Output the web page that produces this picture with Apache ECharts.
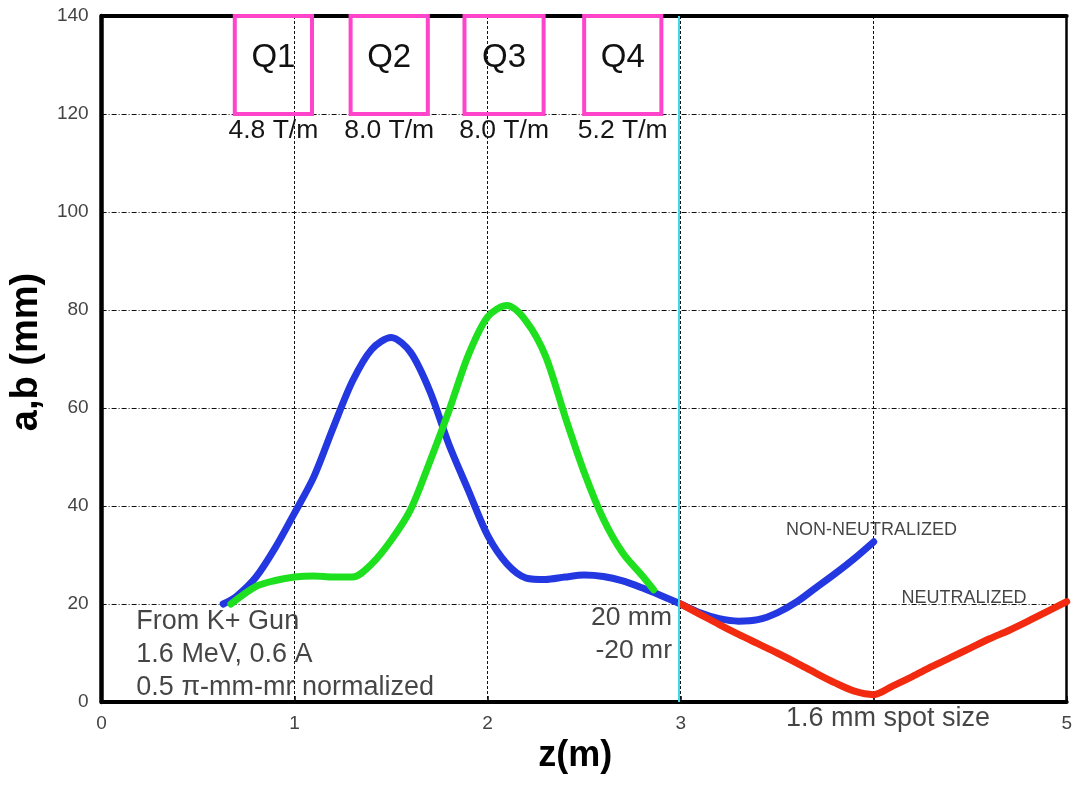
<!DOCTYPE html>
<html>
<head>
<meta charset="utf-8">
<script src="https://cdn.jsdelivr.net/npm/echarts@6/dist/echarts.min.js"></script>
<style>
html,body{margin:0;padding:0;background:#fff;}
#chart{width:1075px;height:785px;}
</style>
</head>
<body>
<div id="chart"></div>
<script>
// ---- data ----
const zBlue = [0.63, 0.70, 0.80, 0.90, 1.00, 1.10, 1.20, 1.30, 1.40, 1.50, 1.60, 1.70, 1.80, 1.90, 2.00, 2.10, 2.20, 2.30, 2.40, 2.50, 2.60, 2.70, 2.80, 2.90, 3.00, 3.10, 3.20, 3.30, 3.40, 3.50, 3.60, 3.70, 3.80, 3.90, 4.00];
const aBlue = [20.0, 21.6, 25.5, 31.5, 38.6, 46.0, 56.0, 65.5, 72.0, 74.4, 71.4, 63.5, 52.5, 43.2, 34.0, 28.2, 25.3, 25.0, 25.5, 25.9, 25.6, 24.7, 23.3, 21.7, 20.0, 18.2, 17.0, 16.5, 16.8, 18.2, 20.4, 23.3, 26.2, 29.3, 32.7];

const zGreen = [0.67, 0.80, 0.90, 1.00, 1.10, 1.20, 1.30, 1.40, 1.50, 1.60, 1.70, 1.80, 1.90, 2.00, 2.10, 2.20, 2.30, 2.40, 2.50, 2.60, 2.70, 2.80, 2.86];
const bGreen = [20.0, 23.6, 24.8, 25.5, 25.7, 25.5, 25.5, 28.2, 33.0, 39.2, 49.0, 59.5, 70.8, 78.6, 80.9, 77.7, 70.6, 58.4, 46.9, 37.3, 30.4, 25.8, 22.9];

const zRed = [3.00, 3.10, 3.20, 3.30, 3.40, 3.50, 3.60, 3.70, 3.80, 3.90, 4.00, 4.10, 4.20, 4.30, 4.40, 4.50, 4.60, 4.70, 4.80, 4.90, 5.00];
const aRed = [20.0, 17.9, 15.8, 13.8, 11.9, 10.0, 8.0, 5.9, 3.9, 2.2, 1.5, 3.3, 5.2, 7.2, 9.1, 11.0, 12.9, 14.6, 16.5, 18.5, 20.5];

const quadNames = ['Q1', 'Q2', 'Q3', 'Q4'];
const quadGradients = ['4.8 T/m', '8.0 T/m', '8.0 T/m', '5.2 T/m'];
const quadStart = [0.69, 1.29, 1.88, 2.50];
const quadEnd = [1.09, 1.69, 2.29, 2.90];
const quadTop = 140, quadBottom = 120;

const exitPlaneZ = 2.99;

const xTickLabels = ['0', '1', '2', '3', '', '5'];

const noteTexts = ['From K+ Gun\n1.6 MeV, 0.6 A\n0.5 π-mm-mr normalized', '20 mm\n-20 mr', 'NON-NEUTRALIZED', 'NEUTRALIZED', '1.6 mm spot size'];
const noteX = [0.18, 2.955, 3.546, 4.144, 3.546];
const noteY = [9.6, 13.9, 35.1, 21.2, -3.3];

// ---- chart ----
const FONT = 'Liberation Sans, Arial, Helvetica, sans-serif';
const chart = echarts.init(document.getElementById('chart'), null, {renderer: 'canvas'});

const pairs = (xs, ys) => xs.map((x, i) => [x, ys[i]]);

const noteStyles = [
  {fontSize: 27, lineHeight: 33, align: 'left'},
  {fontSize: 26.5, lineHeight: 33, align: 'right'},
  {fontSize: 18, lineHeight: 20, align: 'left'},
  {fontSize: 18, lineHeight: 20, align: 'left'},
  {fontSize: 27, lineHeight: 30, align: 'left'}
];

const TEXT = '#161616';

const option = {
  backgroundColor: '#ffffff',
  animation: false,
  grid: {left: 99, right: 6, top: 16, bottom: 83, containLabel: false},
  xAxis: [{
    type: 'value', min: 0, max: 5, interval: 1,
    name: 'z(m)', nameLocation: 'middle', nameGap: 34,
    nameTextStyle: {fontFamily: FONT, fontSize: 36, fontWeight: 'bold', color: '#000', padding: [0, 18, 0, 0]},
    axisLine: {show: true, onZero: false, lineStyle: {color: '#000', width: 4}},
    axisTick: {show: true, inside: true, length: 6, lineStyle: {color: '#000', width: 1.5}},
    axisLabel: {margin: 12, fontFamily: FONT, fontSize: 19, color: '#444',
      formatter: v => xTickLabels[Math.round(v)] ?? ''},
    splitLine: {show: true, lineStyle: {color: '#111', width: 1, type: [3, 2]}}
  }, {
    type: 'value', min: 0, max: 5, position: 'top',
    axisLine: {show: true, onZero: false, lineStyle: {color: '#000', width: 4}},
    axisTick: {show: false}, axisLabel: {show: false}, splitLine: {show: false}
  }],
  yAxis: [{
    type: 'value', min: 0, max: 140, interval: 20,
    name: 'a,b (mm)', nameLocation: 'middle', nameGap: 47,
    nameTextStyle: {fontFamily: FONT, fontSize: 38, fontWeight: 'bold', color: '#000', padding: [0, 0, 0, 14]},
    axisLine: {show: true, onZero: false, lineStyle: {color: '#000', width: 4.5}},
    axisTick: {show: false},
    axisLabel: {margin: 13, fontFamily: FONT, fontSize: 19, color: '#444'},
    splitLine: {show: true, lineStyle: {color: '#111', width: 1, type: [5, 2, 1, 2]}}
  }, {
    type: 'value', min: 0, max: 140, position: 'right',
    axisLine: {show: true, onZero: false, lineStyle: {color: '#000', width: 2.5}},
    axisTick: {show: false}, axisLabel: {show: false}, splitLine: {show: false}
  }],
  series: [
    {
      name: 'a (non-neutralized)', type: 'line', smooth: 0.3, showSymbol: false, symbol: 'none',
      data: pairs(zBlue, aBlue), z: 3,
      lineStyle: {color: '#2438e2', width: 7, cap: 'round', join: 'round'},
      markLine: {
        silent: true, symbol: 'none', label: {show: false},
        lineStyle: {color: '#3fd9ea', width: 2, type: 'solid'},
        data: [{xAxis: exitPlaneZ}]
      }
    },
    {
      name: 'b', type: 'line', smooth: 0.3, showSymbol: false, symbol: 'none',
      data: pairs(zGreen, bGreen), z: 4,
      lineStyle: {color: '#1fe01f', width: 7, cap: 'round', join: 'round'}
    },
    {
      name: 'neutralized', type: 'line', smooth: 0.3, showSymbol: false, symbol: 'none',
      data: pairs(zRed, aRed), z: 3,
      lineStyle: {color: '#f22a10', width: 7, cap: 'round', join: 'round'}
    },
    {
      name: 'quads', type: 'line', data: [], z: 5,
      markArea: {
        silent: true,
        itemStyle: {color: 'rgba(0,0,0,0)', borderColor: '#ff44cc', borderWidth: 4},
        label: {show: true, position: 'inside', offset: [0, -7], fontFamily: FONT, fontSize: 33, color: '#111'},
        data: quadNames.map((n, i) => [
          {name: n, xAxis: quadStart[i], yAxis: quadTop},
          {xAxis: quadEnd[i], yAxis: quadBottom}
        ])
      }
    },
    {
      name: 'quadGradients', type: 'line', data: [], z: 5,
      markArea: {
        silent: true,
        itemStyle: {color: 'rgba(0,0,0,0)', borderWidth: 0},
        label: {show: true, position: 'bottom', distance: 3, fontFamily: FONT, fontSize: 26.5, color: TEXT},
        data: quadGradients.map((g, i) => [
          {name: g, xAxis: quadStart[i], yAxis: quadTop},
          {xAxis: quadEnd[i], yAxis: quadBottom}
        ])
      }
    },
    {
      name: 'notes', type: 'scatter', symbolSize: 0, clip: false, z: 6, silent: true,
      data: noteTexts.map((t, i) => ({
        value: [noteX[i], noteY[i]],
        label: {
          show: true, position: [0, 0], formatter: t,
          fontFamily: FONT, color: TEXT,
          fontSize: noteStyles[i].fontSize, lineHeight: noteStyles[i].lineHeight,
          align: noteStyles[i].align, verticalAlign: 'middle'
        }
      }))
    }
  ]
};
chart.setOption(option);
</script>
</body>
</html>
